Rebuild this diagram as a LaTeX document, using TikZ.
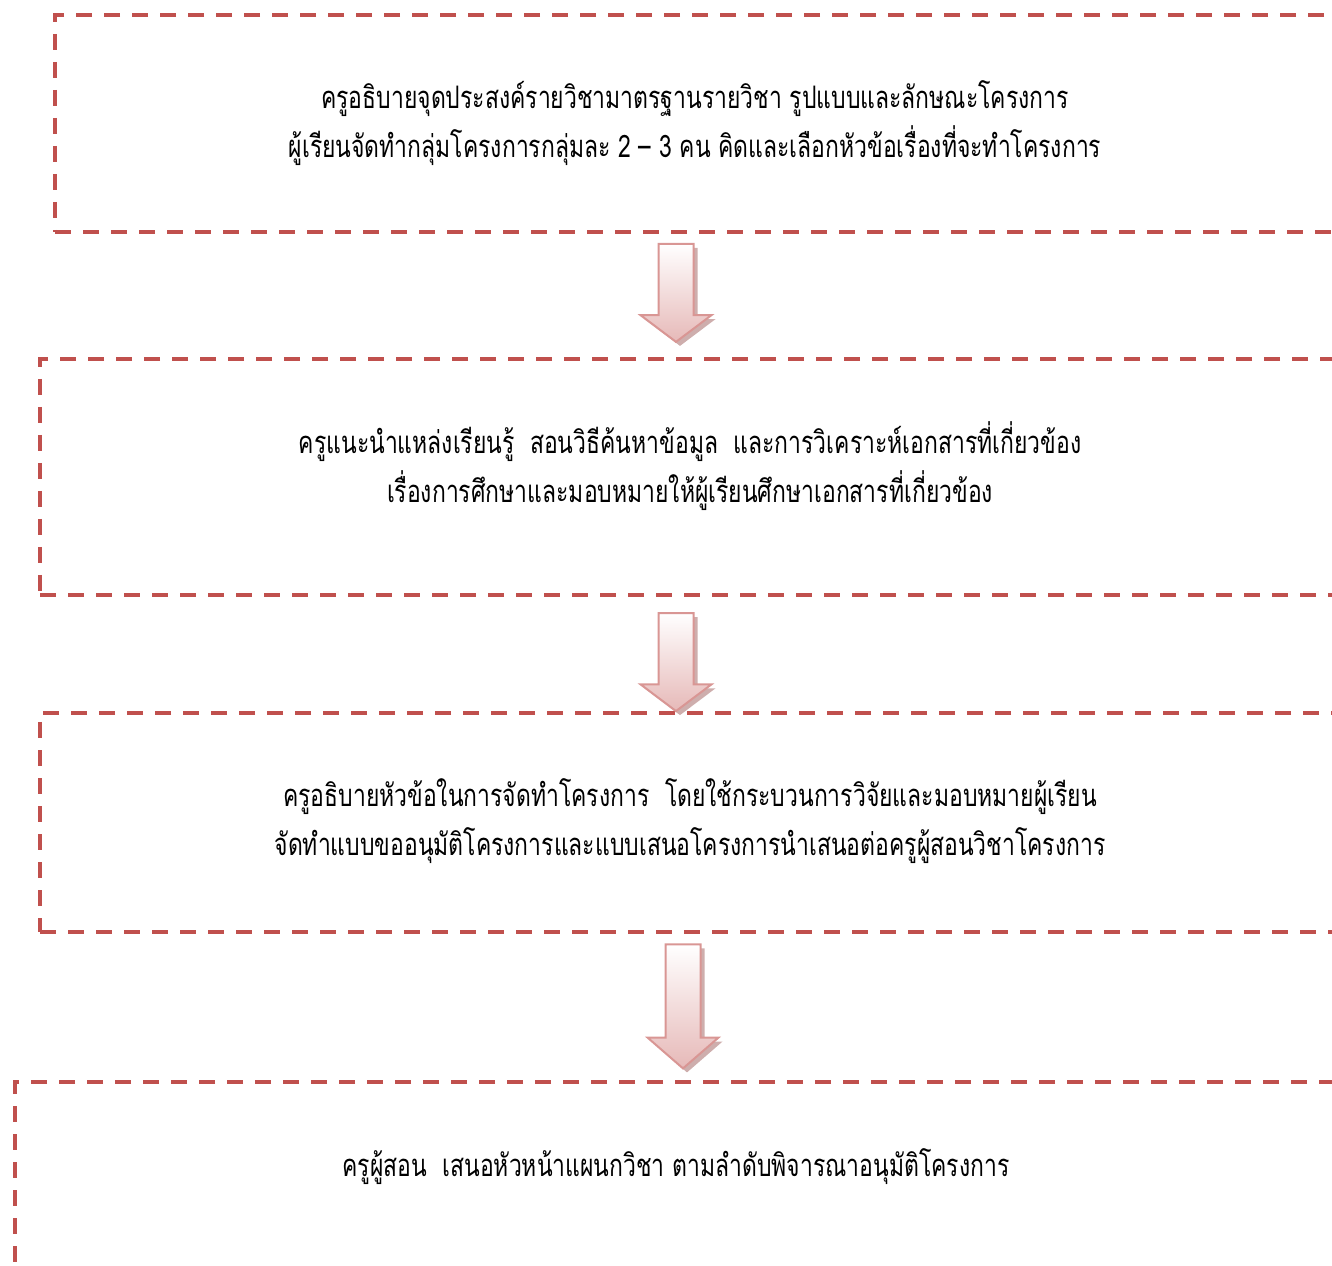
\documentclass[tikz,border=0pt]{standalone}
\usepackage{fontspec}
\newfontfamily\thaifont[Script=Thai, FakeStretch=0.74]{Loma}
\usetikzlibrary{shapes.arrows, shadows}
\definecolor{boxred}{HTML}{C0504D}
\definecolor{arrowline}{HTML}{D99694}
\definecolor{arrowpink}{HTML}{E6B9B8}
\tikzset{stepbox/.style={draw=boxred, line width=2pt, dash pattern=on 8pt off 6pt, inner sep=0pt, outer sep=0pt, anchor=north west},
         steptext/.style={align=center, font=\thaifont\fontsize{15.5}{24.5}\selectfont},
         downarrow/.style={single arrow, rotate=-90, draw=arrowline, line width=1pt, top color=white, bottom color=arrowpink,
                           minimum width=34.5pt, single arrow head extend=9pt, inner sep=0pt,
                           text width=16.5pt, text height=16.5pt, text depth=0pt,
                           drop shadow={shadow xshift=2pt, shadow yshift=-2pt, fill=arrowline!80!black, opacity=0.6}},
        }

\begin{document}
\begin{tikzpicture}[x=0.5pt, y=0.5pt]
        \useasboundingbox (0,0) rectangle (1332,1265);
        \clip (0,0) rectangle (1332,1265);

        \node[stepbox, minimum width=641pt, minimum height=108.5pt](b1)at(55,1250){};
        \node[stepbox, minimum width=650pt, minimum height=118pt](b2)at(40,906){};
        \node[stepbox, minimum width=650pt, minimum height=109.5pt](b3)at(40,552){};
        \node[stepbox, minimum width=661pt, minimum height=150pt](b4)at(15,183){};

        \node[steptext](t1)at(695,1141.5){ครูอธิบายจุดประสงค์รายวิชามาตรฐานรายวิชา รูปแบบและลักษณะโครงการ\\ผู้เรียนจัดทำกลุ่มโครงการกลุ่มละ 2 – 3 คน คิดและเลือกหัวข้อเรื่องที่จะทำโครงการ};
        \node[steptext](t2)at(690,798.5){ครูแนะนำแหล่งเรียนรู้~ สอนวิธีค้นหาข้อมูล~ และการวิเคราะห์เอกสารที่เกี่ยวข้อง\\เรื่องการศึกษาและมอบหมายให้ผู้เรียนศึกษาเอกสารที่เกี่ยวข้อง};
        \node[steptext](t3)at(690,443.5){ครูอธิบายหัวข้อในการจัดทำโครงการ~ โดยใช้กระบวนการวิจัยและมอบหมายผู้เรียน\\จัดทำแบบขออนุมัติโครงการและแบบเสนอโครงการนำเสนอต่อครูผู้สอนวิชาโครงการ};
        \node[steptext](t4)at(676,98){ครูผู้สอน~ เสนอหัวหน้าแผนกวิชา ตามลำดับพิจารณาอนุมัติโครงการ};

        \node[downarrow, minimum height=49pt, single arrow tip angle=106](a1)at(676,978.7){};
        \node[downarrow, minimum height=49pt, single arrow tip angle=106](a2)at(676,609.5){};
        \node[downarrow, minimum height=62pt, single arrow tip angle=98](a3)at(683,266.2){};
    \end{tikzpicture}
\end{document}
